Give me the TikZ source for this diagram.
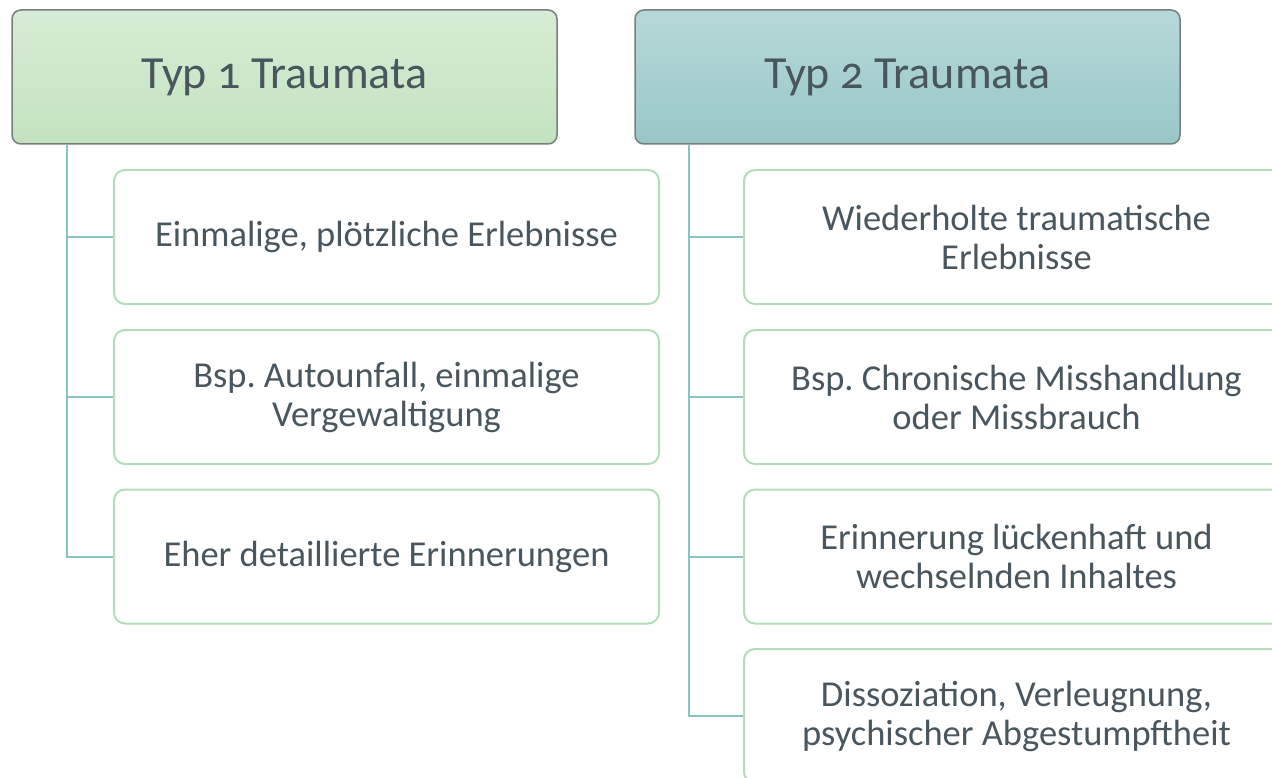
\documentclass[tikz,border=0pt]{standalone}
\usepackage{fontspec}
\setmainfont[Numbers=OldStyle]{Carlito}
\frenchspacing
\definecolor{txtgrey}{HTML}{4A565E}
\definecolor{headline}{HTML}{767D7E}
\definecolor{itemline}{HTML}{B2DDB8}
\definecolor{connline}{HTML}{86C3C3}
\definecolor{greentop}{HTML}{D8ECD5}
\definecolor{greenbot}{HTML}{C3E2BF}
\definecolor{tealtop}{HTML}{B7D8D8}
\definecolor{tealbot}{HTML}{98C7C8}
\begin{document}
\begin{tikzpicture}[x=1pt,y=-1pt,
    head/.style={draw=headline, line width=1.5pt, rounded corners=9pt,
      minimum width=545pt, minimum height=134pt,
      font=\fontsize{46}{54}\selectfont, text=txtgrey},
    item/.style={draw=itemline, line width=2pt, fill=white, rounded corners=11pt,
      minimum width=545pt, minimum height=134pt, align=center,
      font=\fontsize{36.5}{39}\selectfont, text=txtgrey},
    conn/.style={draw=connline, line width=2pt}]
  \useasboundingbox (0,0) rectangle (1272,778);
  \clip (0,0) rectangle (1272,778);
  % headers
  \node[head, top color=greentop, bottom color=greenbot] (h1) at (284.5,77) {Typ 1 Traumata};
  \node[head, top color=tealtop, bottom color=tealbot] (h2) at (907.5,77) {Typ 2 Traumata};
  % left column
  \node[item] (c1) at (386.5,237) {Einmalige, plötzliche Erlebnisse};
  \node[item] (c2) at (386.5,397) {Bsp. Autounfall, einmalige\\Vergewaltigung};
  \node[item] (c3) at (386.5,556.5) {Eher detaillierte Erinnerungen};
  % right column
  \node[item] (d1) at (1016.5,237) {Wiederholte traumatische\\Erlebnisse};
  \node[item] (d2) at (1016.5,397) {Bsp. Chronische Misshandlung\\oder Missbrauch};
  \node[item] (d3) at (1016.5,556.5) {Erinnerung lückenhaft und\\wechselnden Inhaltes};
  \node[item] (d4) at (1016.5,716) {Dissoziation, Verleugnung,\\psychischer Abgestumpftheit};
  % connectors
  \foreach \i in {1,2,3}
    \draw[conn] ([xshift=56pt]h1.south west) |- (c\i.west);
  \foreach \i in {1,...,4}
    \draw[conn] ([xshift=55pt]h2.south west) |- (d\i.west);
\end{tikzpicture}
\end{document}
